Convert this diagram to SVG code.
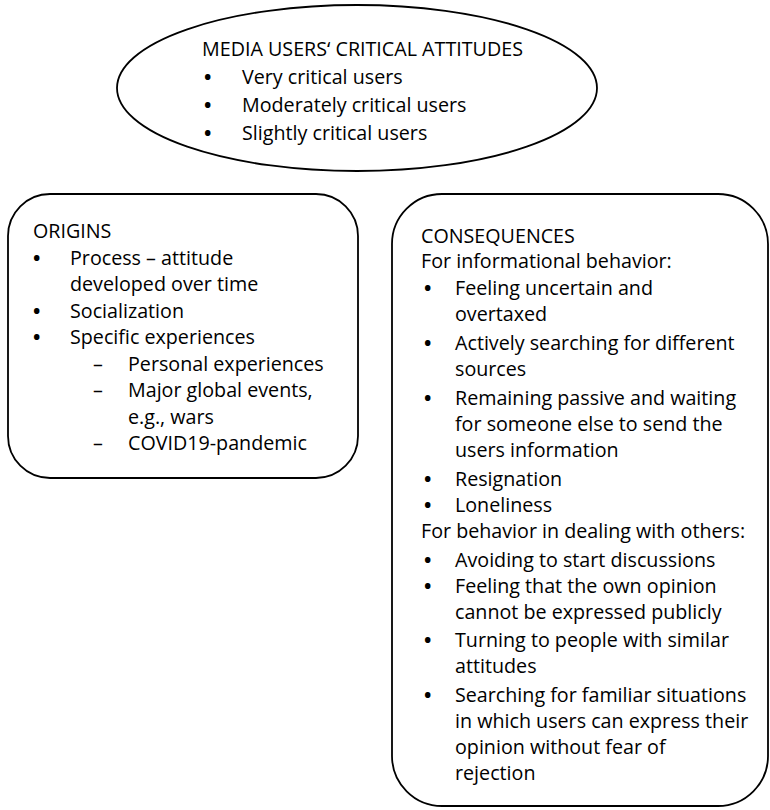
<svg xmlns="http://www.w3.org/2000/svg" width="770" height="810" viewBox="0 0 770 810">
<style>
.shape{fill:#fff;stroke:#000;stroke-width:1.8}
text{font-family:"Open Sans","Noto Sans","Liberation Sans",sans-serif;font-size:19.7px;fill:#000}
.b{font-weight:700}
</style>
<rect width="770" height="810" fill="#fff"/>
<g id="attitudes">
<ellipse class="shape" cx="357" cy="88" rx="240" ry="83"/>
<text x="202" y="56">MEDIA USERS‘ CRITICAL ATTITUDES</text>
<text class="b" x="204" y="84">•</text><text x="242" y="84">Very critical users</text>
<text class="b" x="204" y="112">•</text><text x="242" y="112">Moderately critical users</text>
<text class="b" x="204" y="140">•</text><text x="242" y="140">Slightly critical users</text>
</g>
<g id="origins">
<rect class="shape" x="8" y="194" width="350" height="284" rx="42"/>
<text x="33" y="238">ORIGINS</text>
<text class="b" x="33" y="264.5">•</text><text x="70" y="264.5">Process – attitude</text>
<text x="70" y="291">developed over time</text>
<text class="b" x="33" y="317.5">•</text><text x="70" y="317.5">Socialization</text>
<text class="b" x="33" y="344">•</text><text x="70" y="344">Specific experiences</text>
<text x="93" y="370.5">–</text><text x="128" y="370.5">Personal experiences</text>
<text x="93" y="397">–</text><text x="128" y="397">Major global events,</text>
<text x="128" y="423.5">e.g., wars</text>
<text x="93" y="450">–</text><text x="128" y="450">COVID19-pandemic</text>
</g>
<g id="consequences">
<rect class="shape" x="392" y="194" width="376" height="612" rx="50"/>
<text x="421" y="243">CONSEQUENCES</text>
<text x="421" y="268">For informational behavior:</text>
<text class="b" x="424" y="295">•</text><text x="455" y="295">Feeling uncertain and</text>
<text x="455" y="321">overtaxed</text>
<text class="b" x="424" y="350">•</text><text x="455" y="350">Actively searching for different</text>
<text x="455" y="376">sources</text>
<text class="b" x="424" y="405">•</text><text x="455" y="405">Remaining passive and waiting</text>
<text x="455" y="431">for someone else to send the</text>
<text x="455" y="457">users information</text>
<text class="b" x="424" y="486">•</text><text x="455" y="486">Resignation</text>
<text class="b" x="424" y="512">•</text><text x="455" y="512">Loneliness</text>
<text x="421" y="538">For behavior in dealing with others:</text>
<text class="b" x="424" y="567">•</text><text x="455" y="567">Avoiding to start discussions</text>
<text class="b" x="424" y="593">•</text><text x="455" y="593">Feeling that the own opinion</text>
<text x="455" y="619">cannot be expressed publicly</text>
<text class="b" x="424" y="647">•</text><text x="455" y="647">Turning to people with similar</text>
<text x="455" y="673">attitudes</text>
<text class="b" x="424" y="702">•</text><text x="455" y="702">Searching for familiar situations</text>
<text x="455" y="728">in which users can express their</text>
<text x="455" y="754">opinion without fear of</text>
<text x="455" y="780">rejection</text>
</g>
</svg>
